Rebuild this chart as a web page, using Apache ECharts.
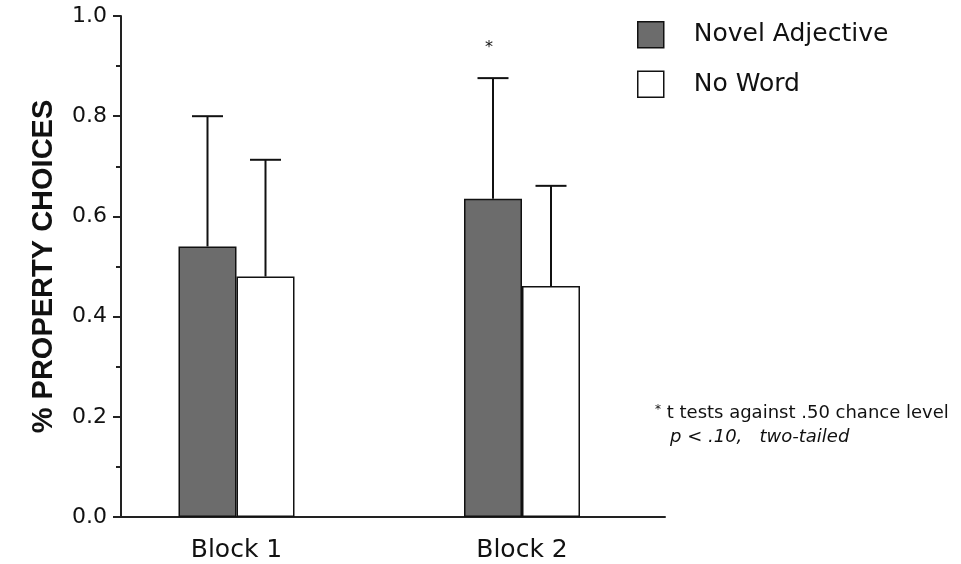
<!DOCTYPE html>
<html><head><meta charset="utf-8">
<script src="https://cdn.jsdelivr.net/npm/echarts/dist/echarts.min.js"></script>
<style>html,body{margin:0;padding:0;background:#fff}#c{width:961px;height:564px}</style>
</head><body><div id="c"></div>
<script>
// ---- data ----
const categories = ['Block 1', 'Block 2'];
const seriesNames = ['Novel Adjective', 'No Word'];
const novelAdjective = [0.54, 0.635];
const novelAdjectiveErrTop = [0.80, 0.876];
const noWord = [0.48, 0.461];
const noWordErrTop = [0.713, 0.661];
const significance = ['', '*'];
const yMin = 0, yMax = 1, yStep = 0.2;
const footnoteLine1 = 't tests against .50 chance level';
const footnoteLine2 = 'p < .10,   two-tailed';

// ---- styles ----
const FONT = 'DejaVu Sans';
const INK = '#111';
const GRAY = '#6c6c6c';
const BAR_W = 58;
const CAP_HALF = 15.5;

const chart = echarts.init(document.getElementById('c'), null, {renderer: 'canvas'});

function errorSeries(name, vals, tops, sig, offset) {
  return {
    type: 'custom', name: name + ' err', xAxisIndex: 0, yAxisIndex: 0, z: 5,
    encode: {x: 0, y: [1, 2]},
    data: vals.map((v, i) => [i, v, tops[i], sig ? sig[i] : '']),
    renderItem: function (params, api) {
      const i = api.value(0);
      const base = api.coord([i, api.value(1)]);
      const top = api.coord([i, api.value(2)]);
      const x = base[0] + offset;
      const st = {stroke: INK, lineWidth: 2};
      const children = [
        {type: 'line', shape: {x1: x, y1: base[1], x2: x, y2: top[1]}, style: st},
        {type: 'line', shape: {x1: x - CAP_HALF, y1: top[1], x2: x + CAP_HALF, y2: top[1]}, style: st}
      ];
      const s = api.value(3);
      if (s) {
        children.push({type: 'text', style: {text: s, x: x - 4, y: top[1] - 30, align: 'center', verticalAlign: 'middle', fontSize: 16, fontFamily: FONT, fill: INK}});
      }
      return {type: 'group', children: children};
    }
  };
}

const option = {
  animation: false,
  backgroundColor: '#fff',
  grid: [
    {left: 93.75, right: 296.25, top: 16, bottom: 47},
    {left: 121, right: 296, top: 16, bottom: 47}
  ],
  xAxis: [
    {gridIndex: 0, type: 'category', data: categories,
     axisLine: {show: false}, axisTick: {show: false}, splitLine: {show: false},
     axisLabel: {fontSize: 25, fontFamily: FONT, color: INK, margin: 21}},
    {gridIndex: 1, type: 'value', min: 0, max: 1,
     axisLine: {show: true, lineStyle: {color: '#222', width: 2}},
     axisTick: {show: false}, axisLabel: {show: false}, splitLine: {show: false}}
  ],
  yAxis: [
    {gridIndex: 0, type: 'value', min: yMin, max: yMax, show: false},
    {gridIndex: 1, type: 'value', min: yMin, max: yMax, interval: yStep,
     axisLine: {show: true, lineStyle: {color: '#222', width: 2}},
     axisTick: {show: true, length: 8, lineStyle: {color: '#222', width: 2}},
     minorTick: {show: true, splitNumber: 2, length: 5, lineStyle: {color: '#222', width: 2}},
     splitLine: {show: false},
     axisLabel: {formatter: v => v.toFixed(1), fontSize: 22, fontFamily: FONT, color: INK, margin: 14},
     name: '% PROPERTY CHOICES', nameLocation: 'middle', nameGap: 63,
     nameTextStyle: {fontSize: 29, fontWeight: 'bold', fontFamily: 'Liberation Sans', color: INK}}
  ],
  legend: {
    orient: 'vertical', left: 637, top: 21, padding: 0,
    itemWidth: 26, itemHeight: 26, itemGap: 22, selectedMode: false, icon: 'rect',
    textStyle: {fontSize: 25, fontFamily: FONT, color: INK, padding: [0, 0, 0, 25]},
    data: [
      {name: seriesNames[0], itemStyle: {color: GRAY, borderColor: INK, borderWidth: 1.5}},
      {name: seriesNames[1], itemStyle: {color: '#fff', borderColor: INK, borderWidth: 1.5}}
    ]
  },
  series: [
    {type: 'bar', name: seriesNames[0], data: novelAdjective, xAxisIndex: 0, yAxisIndex: 0,
     barWidth: BAR_W, barGap: '0%',
     itemStyle: {color: GRAY, borderColor: INK, borderWidth: 1.5}},
    {type: 'bar', name: seriesNames[1], data: noWord, xAxisIndex: 0, yAxisIndex: 0,
     barWidth: BAR_W, barGap: '0%',
     itemStyle: {color: '#fff', borderColor: INK, borderWidth: 1.5}},
    errorSeries(seriesNames[0], novelAdjective, novelAdjectiveErrTop, significance, -BAR_W / 2),
    errorSeries(seriesNames[1], noWord, noWordErrTop, null, BAR_W / 2)
  ],
  graphic: [
    {type: 'text', left: 655, top: 404,
     style: {text: '{a|*} ' + footnoteLine1, fontSize: 18, fontFamily: FONT, fill: INK,
             rich: {a: {fontSize: 12, fontFamily: FONT, verticalAlign: 'top', padding: [0, 0, 6, 0]}}}},
    {type: 'text', left: 670, top: 428,
     style: {text: footnoteLine2, fontSize: 18, fontStyle: 'italic', fontFamily: FONT, fill: INK}}
  ]
};
chart.setOption(option);
</script>
</body></html>
